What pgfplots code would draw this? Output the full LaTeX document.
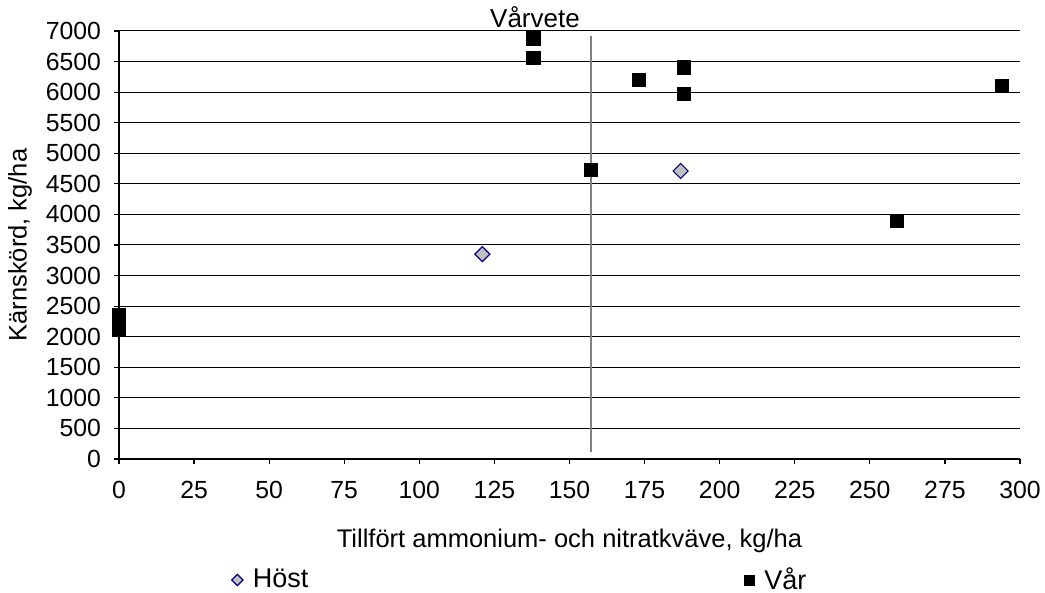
\documentclass[border=0pt]{standalone}
\usepackage{fontspec}
\setmainfont{Liberation Sans}
\usepackage{pgfplots}
\pgfplotsset{compat=1.18}
\definecolor{hostfill}{RGB}{192,192,192}
\definecolor{hostdraw}{RGB}{0,0,128}
\definecolor{vline}{RGB}{128,128,128}
\begin{document}
\begin{tikzpicture}
\begin{axis}[
  name=ax,
  scale only axis,
  width=450.5pt, height=214pt,
  xmin=0, xmax=300, ymin=0, ymax=7000,
  axis x line*=bottom, axis y line*=left,
  axis line style={black, line width=0.6pt, -},
  xtick={0,25,...,300},
  ytick={0,500,...,7000},
  tick align=outside,
  major tick length=2.5pt,
  tick style={black, line width=0.6pt},
  ymajorgrids,
  grid style={black, line width=0.5pt},
  /pgf/number format/assume math mode=true,
  /pgf/number format/set thousands separator={},
  ticklabel style={font=\fontsize{12.4}{14}\selectfont},
  xticklabel style={yshift=-5pt},
  yticklabel style={xshift=-3pt},
  xlabel={Tillfört ammonium- och nitratkväve, kg/ha},
  ylabel={Kärnskörd, kg/ha},
  label style={font=\fontsize{12.75}{15}\selectfont},
  xlabel style={at={(axis description cs:0.5,0)}, anchor=center, yshift=-41pt},
  ylabel style={at={(axis description cs:0,0.5)}, anchor=center, yshift=49.5pt},
  title={Vårvete},
  title style={at={(axis description cs:0.4617,1)}, anchor=center, yshift=0.75pt, font=\fontsize{13}{15}\selectfont},
  legend columns=2,
  legend style={draw=none, fill=none, at={(axis description cs:0.118,-0.2827)}, anchor=west,
    font=\fontsize{13.5}{16}\selectfont,
    /tikz/every odd column/.append style={column sep=3pt},
    /tikz/every even column/.append style={column sep=216pt}},
  legend image code/.code={\draw[#1, every mark/.append style={scale=0.75}] plot coordinates {(0pt,0pt)};},
  clip=false,
]
\addplot[forget plot, color=vline, line width=1pt] coordinates {(157,120) (157,6920)};
\addplot[only marks, mark=square*, mark size=2.65pt,
  mark options={rotate=45, fill=hostfill, draw=hostdraw, line width=0.6pt}]
  coordinates {(121,3350) (187,4710)};
\addlegendentry{Höst}
\addplot[only marks, mark=square*, mark size=3.3pt,
  mark options={fill=black, draw=black, line width=0.4pt}]
  coordinates {(0,2350) (0,2120) (138,6880) (138,6565) (157,4725) (173,6200) (188,6405) (188,5970) (259,3900) (294,6100)};
\addlegendentry{Vår}
\end{axis}
\pgfresetboundingbox
\path (ax.south west) ++(-59.5pt,-67pt) rectangle ++(522.5pt,296.5pt);
\end{tikzpicture}
\end{document}
